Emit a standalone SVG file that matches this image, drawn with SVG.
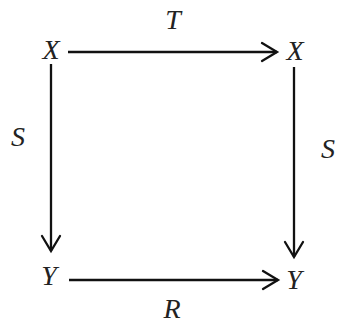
<svg xmlns="http://www.w3.org/2000/svg" width="338" height="326" viewBox="0 0 338 326">
<style>
text{font-family:"Liberation Serif","Times New Roman",serif;font-style:italic;font-size:28px;fill:#222;text-anchor:middle}
.c{stroke:#111;stroke-width:2.3;fill:none}
.h{stroke:#111;stroke-width:2.3;fill:none;stroke-linecap:round;stroke-linejoin:miter}
</style>
<rect width="338" height="326" fill="#fff"/>
<g id="connectors">
<line class="c" x1="68" y1="52" x2="277" y2="52"/>
<polyline class="h" points="262,43 277,52 262,61"/>
<line class="c" x1="69" y1="280" x2="278" y2="280"/>
<polyline class="h" points="263,271 278,280 263,289"/>
<line class="c" x1="51" y1="64" x2="51" y2="251"/>
<polyline class="h" points="42,236 51,251 60,236"/>
<line class="c" x1="294" y1="67" x2="294" y2="257"/>
<polyline class="h" points="285,242 294,257 303,242"/>
<text x="173" y="29">T</text>
<text x="172" y="318">R</text>
<text x="18" y="146">S</text>
<text x="328" y="158">S</text>
</g>
<g id="X1"><text x="51" y="59">X</text></g>
<g id="X2"><text x="295" y="60">X</text></g>
<g id="Y1"><text x="49" y="285">Y</text></g>
<g id="Y2"><text x="294" y="289">Y</text></g>
</svg>
